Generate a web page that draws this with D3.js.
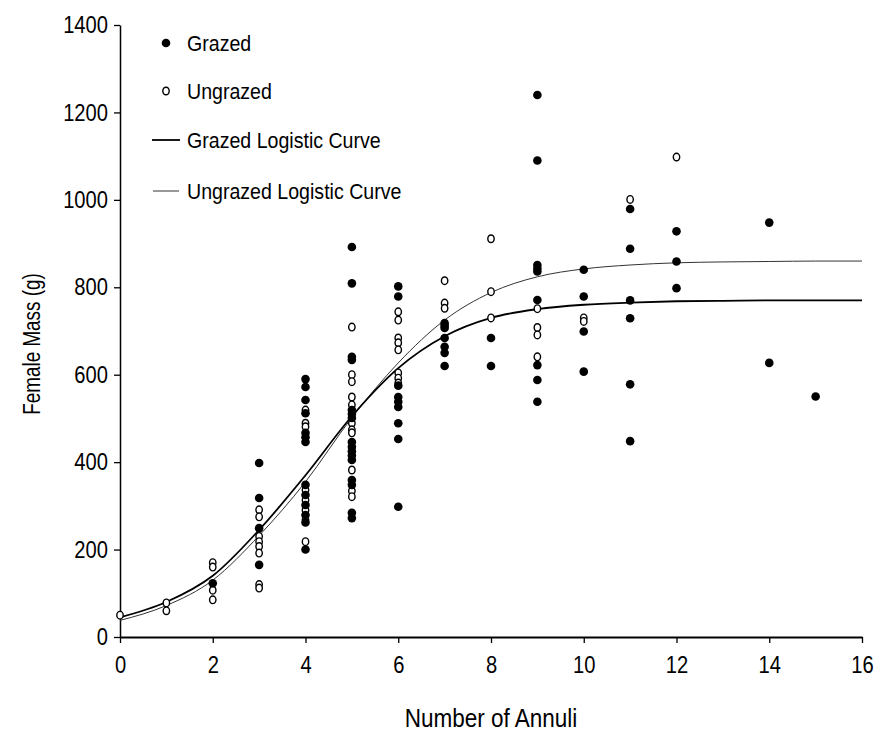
<!DOCTYPE html>
<html>
<head>
<meta charset="utf-8">
<script src="https://cdn.jsdelivr.net/npm/d3@7"></script>
<style>
  body { margin: 0; background: #fff; }
  text { font-family: "Liberation Sans", Arial, sans-serif; fill: #000; }
</style>
</head>
<body>
<svg id="chart" width="885" height="738"></svg>
<script>
    // Chart size
    const width = 885;
    const height = 738;

    // Observations: [number of annuli, female mass (g)]
    const grazedPoints = [
        [2, 123],
        [3, 398], [3, 318], [3, 249], [3, 165],
        [4, 590], [4, 572], [4, 542], [4, 512], [4, 467], [4, 457], [4, 446],
        [4, 348], [4, 325], [4, 302], [4, 279], [4, 262], [4, 200],
        [5, 892], [5, 809], [5, 641], [5, 634], [5, 519], [5, 510], [5, 501],
        [5, 446], [5, 435], [5, 425], [5, 415], [5, 405], [5, 359], [5, 348],
        [5, 284], [5, 272],
        [6, 802], [6, 779], [6, 575], [6, 549], [6, 538], [6, 526], [6, 489],
        [6, 453], [6, 298],
        [7, 718], [7, 712], [7, 707], [7, 684], [7, 664], [7, 650], [7, 620],
        [8, 684], [8, 620],
        [9, 1240], [9, 1090], [9, 851], [9, 843], [9, 836], [9, 771], [9, 622],
        [9, 588], [9, 538],
        [10, 840], [10, 779], [10, 699], [10, 607],
        [11, 979], [11, 888], [11, 770], [11, 729], [11, 578], [11, 448],
        [12, 928], [12, 859], [12, 798],
        [14, 948], [14, 627],
        [15, 550]
    ];

    const ungrazedPoints = [
        [0, 50],
        [1, 78], [1, 60],
        [2, 170], [2, 160], [2, 107], [2, 85],
        [3, 291], [3, 275], [3, 230], [3, 218], [3, 207], [3, 192], [3, 120], [3, 112],
        [4, 519], [4, 489], [4, 481], [4, 336], [4, 313], [4, 290], [4, 268], [4, 218],
        [5, 709], [5, 600], [5, 584], [5, 549], [5, 531], [5, 489], [5, 474],
        [5, 467], [5, 382], [5, 334], [5, 321],
        [6, 744], [6, 725], [6, 684], [6, 673], [6, 657], [6, 604], [6, 592], [6, 581],
        [7, 815], [7, 764], [7, 752],
        [8, 911], [8, 790], [8, 730],
        [9, 751], [9, 708], [9, 691], [9, 641],
        [10, 730], [10, 722],
        [11, 1001],
        [12, 1098]
    ];

    // Fitted logistic curves, read at each annulus
    const curveAnnuli = [0, 1, 2, 3, 4, 5, 6, 7, 8, 9, 10, 11, 12, 13, 14, 15, 16];
    const grazedCurve = [45, 80, 140, 245, 370, 505, 615, 688, 730, 750, 760, 765, 768, 769, 770, 770, 770];
    const ungrazedCurve = [38, 72, 130, 232, 355, 502, 627, 725, 788, 824, 842, 851, 856, 858, 859, 860, 860];

    // Axis ticks
    const xTicks = [0, 2, 4, 6, 8, 10, 12, 14, 16];
    const yTicks = [0, 200, 400, 600, 800, 1000, 1200, 1400];

    const svg = d3.select("#chart");

    // squeeze text horizontally, the original lettering is a narrow face
    function condense(sel, ratio) {
        sel.each(function() {
            const w = this.getComputedTextLength();
            d3.select(this)
                .attr("textLength", w * ratio)
                .attr("lengthAdjust", "spacingAndGlyphs");
        });
    }

    // Scales
    const x = d3.scaleLinear().domain([0, 16]).range([120, 862]);
    const y = d3.scaleLinear().domain([0, 1400]).range([637, 25]);

    // Axes
    const xAxis = svg.append("g")
        .attr("transform", `translate(0,${y(0)})`)
        .call(d3.axisBottom(x).tickValues(xTicks).tickFormat(d3.format("d"))
            .tickSize(6).tickSizeOuter(0).tickPadding(13));
    xAxis.select(".domain").attr("stroke", "#000").attr("stroke-width", 2.2);
    xAxis.selectAll(".tick line").attr("stroke", "#000").attr("stroke-width", 1.3);
    xAxis.selectAll(".tick text").attr("font-size", 24).attr("font-family", null);

    const yAxis = svg.append("g")
        .attr("transform", `translate(${x(0)},0)`)
        .call(d3.axisLeft(y).tickValues(yTicks).tickFormat(d3.format("d"))
            .tickSize(6).tickSizeOuter(0).tickPadding(6));
    yAxis.select(".domain").attr("stroke", "#000").attr("stroke-width", 1.5);
    yAxis.selectAll(".tick line").attr("stroke", "#000").attr("stroke-width", 1.3);
    yAxis.selectAll(".tick text").attr("font-size", 24).attr("font-family", null);

    // Axis titles
    const xTitle = svg.append("text")
        .attr("x", 491)
        .attr("y", 727)
        .attr("text-anchor", "middle")
        .attr("font-size", 25)
        .text("Number of Annuli");

    const yTitle = svg.append("text")
        .attr("transform", `translate(40,${344}) rotate(-90)`)
        .attr("text-anchor", "middle")
        .attr("font-size", 23)
        .text("Female Mass (g)");

    // Logistic curves
    const line = d3.line()
        .x((d, i) => x(curveAnnuli[i]))
        .y(d => y(d))
        .curve(d3.curveMonotoneX);

    svg.append("path")
        .datum(ungrazedCurve)
        .attr("fill", "none")
        .attr("stroke", "#333")
        .attr("stroke-width", 1)
        .attr("d", line);

    svg.append("path")
        .datum(grazedCurve)
        .attr("fill", "none")
        .attr("stroke", "#000")
        .attr("stroke-width", 1.8)
        .attr("d", line);

    // Points
    svg.append("g")
      .selectAll("ellipse")
      .data(ungrazedPoints)
      .join("ellipse")
        .attr("cx", d => x(d[0]))
        .attr("cy", d => y(d[1]))
        .attr("rx", 3.2)
        .attr("ry", 3.8)
        .attr("fill", "#fff")
        .attr("stroke", "#000")
        .attr("stroke-width", 1.4);

    svg.append("g")
      .selectAll("circle")
      .data(grazedPoints)
      .join("circle")
        .attr("cx", d => x(d[0]))
        .attr("cy", d => y(d[1]))
        .attr("r", 4.3)
        .attr("fill", "#000");

    // Legend
    const legend = svg.append("g");
    const legendText = (ty, label) => legend.append("text")
        .attr("x", 187)
        .attr("y", ty)
        .attr("dy", "0.35em")
        .attr("font-size", 22)
        .text(label);

    legend.append("circle").attr("cx", 166).attr("cy", 43).attr("r", 4.3).attr("fill", "#000");
    legendText(43, "Grazed");

    legend.append("ellipse").attr("cx", 166).attr("cy", 91).attr("rx", 3.2).attr("ry", 3.8)
        .attr("fill", "#fff").attr("stroke", "#000").attr("stroke-width", 1.4);
    legendText(91, "Ungrazed");

    legend.append("line").attr("x1", 152).attr("x2", 180).attr("y1", 140).attr("y2", 140)
        .attr("stroke", "#000").attr("stroke-width", 1.8);
    legendText(140, "Grazed Logistic Curve");

    legend.append("line").attr("x1", 153).attr("x2", 179).attr("y1", 191).attr("y2", 191)
        .attr("stroke", "#333").attr("stroke-width", 1);
    legendText(191, "Ungrazed Logistic Curve");

    condense(xAxis.selectAll(".tick text"), 0.84);
    condense(yAxis.selectAll(".tick text"), 0.84);
    condense(xTitle, 0.9);
    condense(yTitle, 0.82);
    condense(legend.selectAll("text"), 0.89);
</script>
</body>
</html>
